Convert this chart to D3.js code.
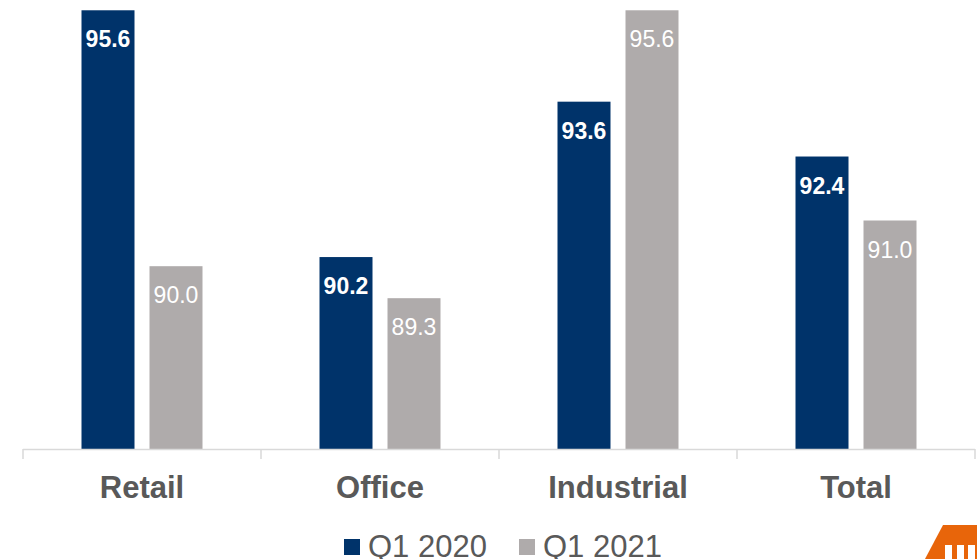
<!DOCTYPE html>
<html>
<head>
<meta charset="utf-8">
<script src="https://cdn.jsdelivr.net/npm/d3@7"></script>
<style>
  body { margin: 0; background: #fff; }
  text { font-family: "Liberation Sans", Arial, sans-serif; }
</style>
</head>
<body>
<svg id="chart" width="977" height="559"></svg>
<script>
const categories = ["Retail", "Office", "Industrial", "Total"];
const seriesNames = ["Q1 2020", "Q1 2021"];
const q12020 = [95.6, 90.2, 93.6, 92.4];
const q12021 = [90.0, 89.3, 95.6, 91.0];

const colors = ["#00336A", "#AFABAB"];
const labelWeights = ["bold", "normal"];

let svg = d3.select("#chart");

let x = d3.scaleBand().domain(categories).range([23, 975]);
let y = d3.scaleLinear().domain([86, 96]).range([449, -8]);

let barW = 53, gap = 15;

let series = [q12020, q12021];

series.forEach((vals, s) => {
  let g = svg.append("g");
  let center = c => x(c) + x.bandwidth() / 2;
  let bx = c => s === 0 ? center(c) - gap / 2 - barW : center(c) + gap / 2;

  g.selectAll("rect").data(categories).enter().append("rect")
    .attr("x", bx)
    .attr("y", (c, i) => y(vals[i]))
    .attr("width", barW)
    .attr("height", (c, i) => y(86) - y(vals[i]))
    .attr("fill", colors[s]);

  g.selectAll("text").data(categories).enter().append("text")
    .attr("x", c => bx(c) + barW / 2)
    .attr("y", (c, i) => y(vals[i]) + 37)
    .attr("text-anchor", "middle")
    .attr("fill", "#fff")
    .attr("font-size", 23)
    .attr("font-weight", labelWeights[s])
    .text((c, i) => vals[i].toFixed(1));
});

// x axis
let axis = svg.append("g");
axis.append("line")
  .attr("x1", 23).attr("x2", 975)
  .attr("y1", 449.5).attr("y2", 449.5)
  .attr("stroke", "#D9D9D9").attr("stroke-width", 1.5);
let ticks = categories.map(c => x(c)).concat([x.range()[1]]);
axis.selectAll("line.tick").data(ticks).enter().append("line")
  .attr("class", "tick")
  .attr("x1", d => d).attr("x2", d => d)
  .attr("y1", 449).attr("y2", 459)
  .attr("stroke", "#D9D9D9").attr("stroke-width", 1.5);

axis.selectAll("text").data(categories).enter().append("text")
  .attr("x", c => x(c) + x.bandwidth() / 2)
  .attr("y", 498)
  .attr("text-anchor", "middle")
  .attr("fill", "#595959")
  .attr("font-size", 31)
  .attr("font-weight", "bold")
  .text(c => c);

// legend
let legend = svg.append("g");
let legendX = [344, 519];
seriesNames.forEach((name, i) => {
  legend.append("rect")
    .attr("x", legendX[i]).attr("y", 539)
    .attr("width", 16).attr("height", 16)
    .attr("fill", colors[i]);
  legend.append("text")
    .attr("x", legendX[i] + 24).attr("y", 557)
    .attr("fill", "#595959")
    .attr("font-size", 31)
    .text(name);
});

// logo corner
let logo = svg.append("g");
logo.append("path")
  .attr("d", "M943,525 L977,525 L977,559 L925,559 Z")
  .attr("fill", "#E8650A");
[945, 957, 968].forEach(sx => {
  logo.append("rect")
    .attr("x", sx).attr("y", 545)
    .attr("width", 7).attr("height", 14)
    .attr("fill", "#fff");
});
</script>
</body>
</html>
